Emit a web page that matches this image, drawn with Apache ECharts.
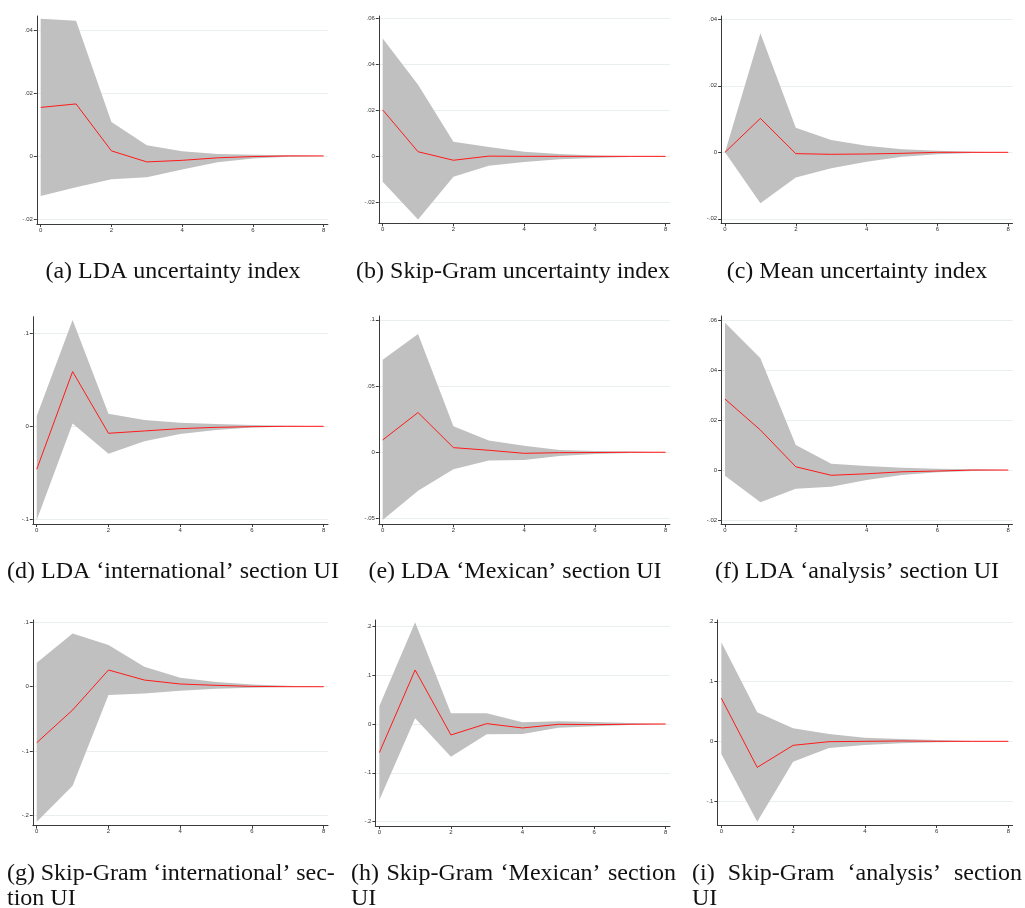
<!DOCTYPE html>
<html><head><meta charset="utf-8">
<script src="https://cdn.jsdelivr.net/npm/echarts@6/dist/echarts.min.js"></script>
<style>html,body{margin:0;padding:0;background:#fff}#c{width:1025px;height:908px}</style>
</head><body><div id="c"></div>
<script>
// Horizon steps
const steps = [0, 1, 2, 3, 4, 5, 6, 7, 8];
const xTicks = [0, 2, 4, 6, 8];

// (a) LDA uncertainty index
const aIrf = [0.0154, 0.0165, 0.0016, -0.0019, -0.0014, -0.0006, -0.0002, 0, 0];
const aHi  = [0.0435, 0.0429, 0.0108, 0.0034, 0.0015, 0.0006, 0.0004, 0.0002, 0];
const aLo  = [-0.0127, -0.0099, -0.0074, -0.0068, -0.0043, -0.0020, -0.0008, -0.0003, 0];
const aTicks = [-0.02, 0, 0.02, 0.04];

// (b) Skip-Gram uncertainty index
const bIrf = [0.0202, 0.0020, -0.0017, 0.0001, 0, 0, 0, 0, 0];
const bHi  = [0.0512, 0.0311, 0.0063, 0.0041, 0.0020, 0.0010, 0.0004, 0.0001, 0];
const bLo  = [-0.0110, -0.0275, -0.0089, -0.0041, -0.0025, -0.0013, -0.0007, -0.0003, 0];
const bTicks = [-0.02, 0, 0.02, 0.04, 0.06];

// (c) Mean uncertainty index
const cIrf = [0, 0.0102, -0.0004, -0.0006, -0.0005, -0.0003, 0, 0, 0];
const cHi  = [0, 0.0358, 0.0074, 0.0037, 0.0020, 0.0009, 0.0005, 0.0002, 0];
const cLo  = [0, -0.0153, -0.0076, -0.0048, -0.0028, -0.0013, -0.0006, -0.0002, 0];
const cTicks = [-0.02, 0, 0.02, 0.04];

// (d) LDA 'international' section UI
const dIrf = [-0.0462, 0.0588, -0.0075, -0.0050, -0.0025, -0.0011, -0.0004, 0, 0];
const dHi  = [0.0111, 0.1143, 0.0136, 0.0068, 0.0039, 0.0025, 0.0014, 0.0007, 0];
const dLo  = [-0.1007, 0.0029, -0.0294, -0.0161, -0.0082, -0.0039, -0.0014, -0.0004, 0];
const dTicks = [-0.1, 0, 0.1];

// (e) LDA 'Mexican' section UI
const eIrf = [0.0093, 0.0300, 0.0035, 0.0015, -0.0008, -0.0003, -0.0002, 0, 0];
const eHi  = [0.0698, 0.0894, 0.0196, 0.0088, 0.0050, 0.0018, 0.0010, 0.0005, 0];
const eLo  = [-0.0511, -0.0290, -0.0128, -0.0063, -0.0058, -0.0028, -0.0013, -0.0005, 0];
const eTicks = [-0.05, 0, 0.05, 0.1];

// (f) LDA 'analysis' section UI
const fIrf = [0.0284, 0.0160, 0.0013, -0.0021, -0.0015, -0.0007, -0.0004, 0, 0];
const fHi  = [0.0589, 0.0447, 0.0100, 0.0025, 0.0016, 0.0009, 0.0005, 0.0003, 0];
const fLo  = [-0.0023, -0.0129, -0.0075, -0.0067, -0.0040, -0.0020, -0.0009, -0.0004, 0];
const fTicks = [-0.02, 0, 0.02, 0.04, 0.06];

// (g) Skip-Gram 'international' section UI
const gIrf = [-0.0872, -0.0363, 0.0260, 0.0104, 0.0042, 0.0021, 0.0005, 0, 0];
const gHi  = [0.0374, 0.0830, 0.0649, 0.0311, 0.0140, 0.0073, 0.0036, 0.0016, 0];
const gLo  = [-0.2102, -0.1541, -0.0130, -0.0104, -0.0062, -0.0031, -0.0016, -0.0005, 0];
const gTicks = [-0.2, -0.1, 0, 0.1];

// (h) Skip-Gram 'Mexican' section UI
const hIrf = [-0.0587, 0.1106, -0.0225, 0.0007, -0.0082, -0.0007, -0.0014, -0.0005, 0];
const hHi  = [0.0369, 0.2082, 0.0218, 0.0218, 0.0034, 0.0055, 0.0040, 0.0020, 0];
const hLo  = [-0.1556, 0.0116, -0.0669, -0.0212, -0.0205, -0.0075, -0.0048, -0.0020, 0];
const hTicks = [-0.2, -0.1, 0, 0.1, 0.2];

// (i) Skip-Gram 'analysis' section UI
const iIrf = [0.0721, -0.0436, -0.0067, -0.0006, 0, 0.0006, 0, 0, 0];
const iHi  = [0.1659, 0.0486, 0.0218, 0.0123, 0.0061, 0.0039, 0.0022, 0.0006, 0];
const iLo  = [-0.0212, -0.1346, -0.0341, -0.0112, -0.0061, -0.0034, -0.0017, -0.0006, 0];
const iTicks = [-0.1, 0, 0.1, 0.2];

// Captions
const capA = '(a) LDA uncertainty index';
const capB = '(b) Skip-Gram uncertainty index';
const capC = '(c) Mean uncertainty index';
const capD = '(d) LDA \u2018international\u2019 section UI';
const capE = '(e) LDA \u2018Mexican\u2019 section UI';
const capF = '(f) LDA \u2018analysis\u2019 section UI';
const capG = ['(g) Skip-Gram \u2018international\u2019 sec-', 'tion UI'];
const capH = ['(h) Skip-Gram \u2018Mexican\u2019 section', 'UI'];
const capI = ['(i) Skip-Gram \u2018analysis\u2019 section', 'UI'];

// Layout (pixel boxes of plot regions and visible axis ranges)
const panels = [
  {irf: aIrf, hi: aHi, lo: aLo, ticks: aTicks, yr: [-0.0216, 0.0444], box: [36.8, 16, 291.1, 208]},
  {irf: bIrf, hi: bHi, lo: bLo, ticks: bTicks, yr: [-0.0291, 0.0610], box: [378.8, 16, 291.1, 207.3]},
  {irf: cIrf, hi: cHi, lo: cLo, ticks: cTicks, yr: [-0.02135, 0.0410], box: [721.1, 16, 291.4, 207.3]},
  {irf: dIrf, hi: dHi, lo: dLo, ticks: dTicks, yr: [-0.1050, 0.1178], box: [32.8, 316.7, 295.2, 207.3]},
  {irf: eIrf, hi: eHi, lo: eLo, ticks: eTicks, yr: [-0.0544, 0.1029], box: [378.8, 316, 291.1, 208.3]},
  {irf: fIrf, hi: fHi, lo: fLo, ticks: fTicks, yr: [-0.0217, 0.0616], box: [721.1, 316, 291.4, 208.3]},
  {irf: gIrf, hi: gHi, lo: gLo, ticks: gTicks, yr: [-0.2165, 0.1039], box: [32.8, 620, 295.2, 205.7]},
  {irf: hIrf, hi: hHi, lo: hLo, ticks: hTicks, yr: [-0.2090, 0.2130], box: [375.4, 620, 294.6, 206]},
  {irf: iIrf, hi: iHi, lo: iLo, ticks: iTicks, yr: [-0.1400, 0.2030], box: [717.4, 620, 295.2, 205]}
];

const XMIN = -0.11, XMAX = 8.12;
const AXIS_COLOR = '#3a3a3a';
const GRID_COLOR = '#e9eef0';
const BAND_COLOR = '#c0c0c0';
const LINE_COLOR = '#ff1a1a';
const CAP_FONT = '"Liberation Serif", "Times New Roman", serif';
const CAP_SIZE = 24;

function stataFmt(v) {
  if (Math.abs(v) < 1e-12) return '0';
  const s = String(+(+v).toFixed(4));
  return s.replace(/^(-?)0\./, '$1.');
}

const grid = [], xAxis = [], yAxis = [], series = [];
panels.forEach((p, k) => {
  const [l, t, w, h] = p.box;
  grid.push({left: l, top: t, width: w, height: h, containLabel: false});
  xAxis.push({
    type: 'value', gridIndex: k, min: XMIN, max: XMAX,
    axisLine: {show: true, onZero: false, lineStyle: {color: AXIS_COLOR, width: 1}},
    axisTick: {show: true, customValues: xTicks, length: 3, lineStyle: {color: AXIS_COLOR}},
    axisLabel: {show: true, customValues: xTicks, formatter: stataFmt, fontSize: 6, color: '#333', margin: 3, fontFamily: 'Liberation Sans'},
    splitLine: {show: false}
  });
  yAxis.push({
    type: 'value', gridIndex: k, min: p.yr[0], max: p.yr[1],
    axisLine: {show: true, onZero: false, lineStyle: {color: AXIS_COLOR, width: 1}},
    axisTick: {show: true, customValues: p.ticks, length: 3, lineStyle: {color: AXIS_COLOR}},
    axisLabel: {show: true, customValues: p.ticks, formatter: stataFmt, fontSize: 6, color: '#333', margin: 4, fontFamily: 'Liberation Sans'},
    splitLine: {show: true, lineStyle: {color: GRID_COLOR, width: 1}}
  });
  const bandData = steps.map((s, j) => [s, p.lo[j], p.hi[j]]);
  const irfData = steps.map((s, j) => [s, p.irf[j]]);
  series.push({
    type: 'custom', xAxisIndex: k, yAxisIndex: k, data: bandData,
    encode: {x: 0, y: [1, 2]}, silent: true, z: 2, animation: false,
    renderItem: function (params, api) {
      if (params.dataIndex !== 0) return null;
      const pts = [];
      for (let j = 0; j < bandData.length; j++) pts.push(api.coord([bandData[j][0], bandData[j][2]]));
      for (let j = bandData.length - 1; j >= 0; j--) pts.push(api.coord([bandData[j][0], bandData[j][1]]));
      return {type: 'polygon', shape: {points: pts}, style: {fill: BAND_COLOR, stroke: null}};
    }
  });
  series.push({
    type: 'line', xAxisIndex: k, yAxisIndex: k, data: irfData,
    symbol: 'none', silent: true,
    lineStyle: {color: LINE_COLOR, width: 1}, z: 3, animation: false
  });
});

// Captions
const graphic = [];
function addCenter(text, cx, cy) {
  graphic.push({type: 'text', x: cx, y: cy, style: {text: text, fontSize: CAP_SIZE, fontFamily: CAP_FONT, fill: '#111', align: 'center', verticalAlign: 'middle'}});
}
const mctx = document.createElement('canvas').getContext('2d');
mctx.font = CAP_SIZE + 'px ' + CAP_FONT;
function addJustified(text, x0, x1, cy) {
  const words = text.split(' ');
  const widths = words.map(wd => mctx.measureText(wd).width);
  const total = widths.reduce((a, b) => a + b, 0);
  let gap = words.length > 1 ? (x1 - x0 - total) / (words.length - 1) : 0;
  gap = Math.max(gap, 0.24 * CAP_SIZE);
  let x = x0;
  words.forEach((wd, j) => {
    graphic.push({type: 'text', x: x, y: cy, style: {text: wd, fontSize: CAP_SIZE, fontFamily: CAP_FONT, fill: '#111', align: 'left', verticalAlign: 'middle'}});
    x += widths[j] + gap;
  });
}
function addLeft(text, x0, cy) {
  graphic.push({type: 'text', x: x0, y: cy, style: {text: text, fontSize: CAP_SIZE, fontFamily: CAP_FONT, fill: '#111', align: 'left', verticalAlign: 'middle'}});
}
addCenter(capA, 173, 272);
addCenter(capB, 513, 272);
addCenter(capC, 857, 272);
addCenter(capD, 173, 572);
addCenter(capE, 515, 572);
addCenter(capF, 857, 572);
addJustified(capG[0], 7, 334, 874);
addLeft(capG[1], 7, 899);
addJustified(capH[0], 351, 676, 874);
addLeft(capH[1], 351, 899);
addJustified(capI[0], 692, 1022, 874);
addLeft(capI[1], 692, 899);

const chart = echarts.init(document.getElementById('c'), null, {renderer: 'canvas'});
chart.setOption({
  animation: false,
  backgroundColor: '#fff',
  grid: grid, xAxis: xAxis, yAxis: yAxis, series: series, graphic: graphic
});
</script>
</body></html>
